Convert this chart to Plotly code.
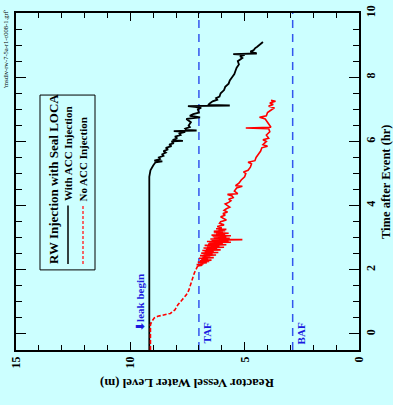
import plotly.graph_objects as go

# ---- data -------------------------------------------------------------
# Reactor vessel water level (m) versus time after event (hr)
black_time = [-0.50, 0.30, 0.32, 0.34, 4.90, 5.10, 5.25, 5.30, 5.35, 5.38,
              5.40, 5.45, 5.50, 5.55, 5.60, 5.65, 5.70, 5.75, 5.80, 5.85,
              5.90, 5.95, 6.00, 6.02, 6.04, 6.10, 6.15, 6.20, 6.25, 6.30,
              6.32, 6.34, 6.36, 6.40, 6.45, 6.50, 6.60, 6.70, 6.75, 6.80,
              6.85, 6.90, 7.00, 7.05, 7.10, 7.12, 7.14, 7.20, 7.25, 7.30,
              7.35, 7.40, 7.50, 7.60, 7.70, 7.80, 7.90, 8.00, 8.10, 8.20,
              8.30, 8.40, 8.50, 8.60, 8.65, 8.70, 8.72, 8.74, 8.80, 8.85,
              8.90, 8.95, 9.00, 9.05, 9.10]
black_level = [9.17, 9.17, 9.10, 9.17, 9.17, 9.12, 9.00, 8.95, 8.90, 8.60,
               8.95, 8.70, 8.75, 8.55, 8.60, 8.45, 8.55, 8.35, 8.45, 8.20,
               8.30, 8.10, 8.20, 7.70, 8.15, 7.95, 8.05, 7.80, 7.85, 7.60,
               8.10, 7.10, 7.55, 7.60, 7.40, 7.45, 7.35, 7.55, 6.95, 7.40,
               7.25, 7.00, 7.05, 6.90, 7.48, 5.65, 6.60, 6.50, 6.40, 6.20,
               6.25, 6.10, 6.05, 5.90, 5.85, 5.70, 5.65, 5.55, 5.45, 5.40,
               5.35, 5.25, 5.30, 5.10, 5.20, 5.00, 5.50, 4.47, 4.75, 4.60,
               4.55, 4.45, 4.35, 4.30, 4.20]

red_time = [-0.50, 0.30, 0.40, 0.50, 0.55, 0.60, 0.64, 0.75, 0.91, 1.05,
            1.22, 1.35, 1.52, 1.70, 1.90, 2.05, 2.12, 2.14, 2.16, 2.18,
            2.20, 2.22, 2.24, 2.26, 2.28, 2.30, 2.32, 2.34, 2.36, 2.38,
            2.40, 2.42, 2.44, 2.46, 2.48, 2.50, 2.52, 2.54, 2.56, 2.58,
            2.60, 2.62, 2.64, 2.66, 2.68, 2.70, 2.72, 2.74, 2.76, 2.78,
            2.80, 2.82, 2.84, 2.86, 2.88, 2.90, 2.92, 2.94, 2.96, 2.98,
            3.00, 3.02, 3.04, 3.06, 3.08, 3.10, 3.12, 3.14, 3.16, 3.18,
            3.20, 3.22, 3.24, 3.26, 3.28, 3.30, 3.35, 3.40, 3.45, 3.50,
            3.55, 3.60, 3.65, 3.70, 3.75, 3.80, 3.85, 3.90, 3.95, 4.00,
            4.05, 4.10, 4.15, 4.20, 4.25, 4.30, 4.35, 4.37, 4.45, 4.55,
            4.60, 4.62, 4.70, 4.80, 4.90, 5.00, 5.05, 5.10, 5.20, 5.30,
            5.35, 5.40, 5.50, 5.60, 5.70, 5.80, 5.85, 5.90, 6.00, 6.05,
            6.10, 6.20, 6.30, 6.40, 6.42, 6.44, 6.50, 6.60, 6.70, 6.75,
            6.80, 6.90, 7.00, 7.05, 7.10, 7.15, 7.20, 7.25, 7.28]
red_level = [9.12, 9.12, 9.05, 8.95, 8.80, 8.50, 8.25, 8.05, 7.92, 7.75,
             7.55, 7.45, 7.38, 7.30, 7.20, 7.10, 7.05, 6.85, 7.10, 6.80,
             6.95, 6.65, 7.05, 6.55, 6.95, 6.45, 6.90, 6.60, 7.00, 6.35,
             6.85, 6.50, 6.95, 6.25, 6.80, 6.40, 6.90, 6.15, 6.75, 6.35,
             6.85, 6.05, 6.70, 6.20, 6.80, 5.90, 6.65, 6.10, 6.75, 5.80,
             6.60, 5.95, 6.55, 5.60, 6.65, 5.70, 6.45, 5.10, 6.50, 5.65,
             6.35, 5.80, 6.40, 5.60, 6.45, 5.85, 6.25, 5.70, 6.35, 5.95,
             6.35, 5.85, 6.15, 5.80, 6.25, 6.00, 6.20, 5.90, 6.10, 6.05,
             5.80, 5.95, 6.05, 5.85, 5.95, 5.75, 5.90, 5.80, 5.65, 5.75,
             5.85, 5.70, 5.60, 5.70, 5.50, 5.55, 5.75, 5.30, 5.45, 5.35,
             5.10, 5.40, 5.25, 5.15, 5.00, 4.95, 5.05, 4.85, 4.75, 4.70,
             4.85, 4.55, 4.50, 4.40, 4.30, 4.25, 4.00, 4.20, 4.05, 4.20,
             3.95, 4.05, 3.90, 3.95, 4.95, 3.85, 3.90, 4.00, 4.10, 4.35,
             4.05, 4.00, 3.80, 3.70, 3.95, 3.75, 3.90, 3.65, 3.85]

TAF_LEVEL = 7.0   # top of active fuel (m)
BAF_LEVEL = 2.9   # bottom of active fuel (m)

assert len(black_time) == len(black_level)
assert len(red_time) == len(red_level)

# the early, smooth part of the no-ACC case is drawn dashed
n_dash = sum(1 for t in red_time if t <= 2.12)

# ---- geometry helpers (pixel -> paper) -------------------------------
W, H = 393, 405
PL, PR, PT, PB = 16, 359, 5, 350


def px(x):
    return (x - PL) / (PR - PL)


def py(y):
    return (PB - y) / (PB - PT)


SERIF = "Liberation Serif, Times New Roman, serif"
BG = "#ccffff"
BLUE = "#1a1ae0"
RED = "#ff0000"

fig = go.Figure()

fig.add_trace(go.Scatter(
    x=black_level, y=black_time, mode="lines",
    line=dict(color="black", width=1.8), showlegend=False))
fig.add_trace(go.Scatter(
    x=red_level[:n_dash], y=red_time[:n_dash], mode="lines",
    line=dict(color=RED, width=1.6, dash="4px,2px"), showlegend=False))
fig.add_trace(go.Scatter(
    x=red_level[n_dash - 1:], y=red_time[n_dash - 1:], mode="lines",
    line=dict(color=RED, width=1.6), showlegend=False))

shapes = []
for lvl in (TAF_LEVEL, BAF_LEVEL):
    shapes.append(dict(type="line", xref="x", yref="paper", x0=lvl, x1=lvl,
                       y0=0, y1=1, line=dict(color="#3355ee", width=1.5,
                                              dash="8px,6px"), layer="below"))

# legend box (drawn by hand, rotated layout)
shapes.append(dict(type="rect", xref="paper", yref="paper",
                   x0=px(40), x1=px(95), y0=py(268), y1=py(89),
                   line=dict(color="black", width=1), fillcolor=BG))
shapes.append(dict(type="line", xref="paper", yref="paper",
                   x0=px(68), x1=px(68), y0=py(262), y1=py(202),
                   line=dict(color="black", width=1.5)))
shapes.append(dict(type="line", xref="paper", yref="paper",
                   x0=px(83), x1=px(83), y0=py(262), y1=py(202),
                   line=dict(color="#ff3333", width=1.5, dash="3px,2px")))


def note(text, x, y, size, angle=-90, color="black", weight="bold",
         xanchor="center", yanchor="middle"):
    return dict(text=text, xref="paper", yref="paper", x=px(x), y=py(y),
                showarrow=False, textangle=angle, xanchor=xanchor,
                yanchor=yanchor, borderpad=0,
                font=dict(family=SERIF, size=size, color=color, weight=weight))


annotations = [
    note("RW Injection with Seal LOCA", 53, 263, 13, yanchor="bottom"),
    note("With ACC Injection", 68, 199, 11, yanchor="bottom"),
    note("No ACC Injection", 83, 199, 11, yanchor="bottom"),
    note("Reactor Vessel Water Level (m)", 187, 385, 13, angle=180),
    note("Time after Event (hr)", 386, 178, 12.5),
    note("TAF", 207, 333, 11, color=BLUE),
    note("BAF", 301, 333, 11, color=BLUE),
    note("\u2b07leak begin", 140, 332, 11, color=BLUE, yanchor="bottom"),
    note("'msdiv-rw-7-5a-r1-c008-1.grf'", 5, 1, 6.5, weight="normal",
         yanchor="top"),
]

tickfont = dict(family=SERIF, size=12, color="black", weight="bold")

fig.update_layout(
    width=W, height=H,
    margin=dict(l=PL, r=W - PR, t=PT, b=H - PB),
    paper_bgcolor=BG, plot_bgcolor=BG,
    showlegend=False,
    shapes=shapes,
    annotations=annotations,
    xaxis=dict(range=[15, -0.001], tick0=0, dtick=5, ticks="inside",
               ticklen=8, tickwidth=1, tickcolor="black",
               minor=dict(dtick=1, ticks="inside", ticklen=5,
                          tickcolor="black", showgrid=False),
               showline=True, linecolor="black", linewidth=1.5,
               mirror="allticks", showgrid=False, zeroline=False,
               tickangle=-90, tickfont=tickfont, ticklabeloverflow="allow"),
    yaxis=dict(range=[-0.5, 10.002], side="right", tick0=0, dtick=2,
               ticks="inside", ticklen=10, tickwidth=1, tickcolor="black",
               minor=dict(dtick=0.5, ticks="inside", ticklen=6,
                          tickcolor="black", showgrid=False),
               showline=True, linecolor="black", linewidth=1.5,
               mirror="allticks", showgrid=False, zeroline=False,
               tickangle=-90, tickfont=tickfont, ticklabeloverflow="allow"),
)

fig.write_html("out.html")
